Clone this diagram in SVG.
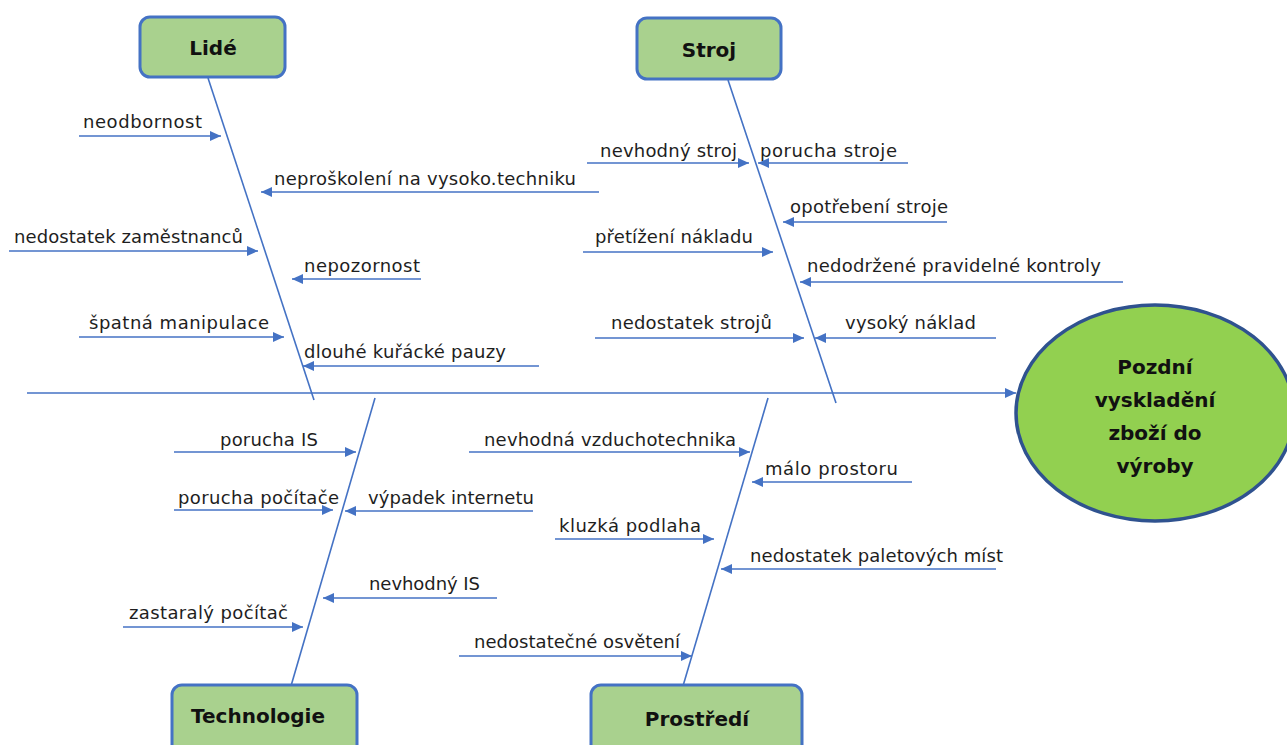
<svg xmlns="http://www.w3.org/2000/svg" width="1287" height="745" viewBox="0 0 1287 745">
  <style>
    .bone { stroke: #4472C4; stroke-width: 1.6; fill: none; }
    .arr { stroke: #4472C4; stroke-width: 1.6; fill: none; marker-end: url(#head); }
    .cat rect { fill: #A9D18E; stroke: #4472C4; stroke-width: 3; }
    .cat text, .effect text { font-family: "DejaVu Sans", "Liberation Sans", sans-serif; font-weight: bold; font-size: 20px; fill: #111; text-anchor: middle; }
    .cause text { font-family: "DejaVu Sans", "Liberation Sans", sans-serif; font-size: 18px; fill: #1e1e1e; lengthAdjust: spacing; }
    .effect ellipse { fill: #92D050; stroke: #2F528F; stroke-width: 3.5; }
  </style>
  <defs>
    <marker id="head" markerUnits="userSpaceOnUse" markerWidth="11" markerHeight="10" refX="11" refY="5" orient="auto">
      <path d="M0,0 L11,5 L0,10 z" fill="#4472C4"/>
    </marker>
  </defs>

  <!-- spine, category bones and cause arrows -->
  <g id="connectors">
    <line class="arr" x1="27" y1="393" x2="1016" y2="393"/>
    <line class="bone" x1="208" y1="78" x2="314" y2="400"/>
    <line class="bone" x1="728" y1="80" x2="836" y2="403"/>
    <line class="bone" x1="375" y1="398" x2="291" y2="686"/>
    <line class="bone" x1="768" y1="398" x2="683" y2="686"/>

    <!-- Lidé -->
    <line class="arr" x1="79" y1="136" x2="221" y2="136"/>
    <line class="arr" x1="599" y1="192" x2="261" y2="192"/>
    <line class="arr" x1="9" y1="251" x2="258" y2="251"/>
    <line class="arr" x1="421" y1="279" x2="292" y2="279"/>
    <line class="arr" x1="79" y1="337" x2="284" y2="337"/>
    <line class="arr" x1="539" y1="366" x2="303" y2="366"/>

    <!-- Stroj -->
    <line class="arr" x1="587" y1="163" x2="749" y2="163"/>
    <line class="arr" x1="908" y1="163" x2="758" y2="163"/>
    <line class="arr" x1="947" y1="222" x2="783" y2="222"/>
    <line class="arr" x1="583" y1="252" x2="773" y2="252"/>
    <line class="arr" x1="1123" y1="282" x2="800" y2="282"/>
    <line class="arr" x1="595" y1="338" x2="804" y2="338"/>
    <line class="arr" x1="996" y1="338" x2="815" y2="338"/>

    <!-- Technologie -->
    <line class="arr" x1="174" y1="452" x2="356" y2="452"/>
    <line class="arr" x1="174" y1="510" x2="333" y2="510"/>
    <line class="arr" x1="533" y1="511" x2="345" y2="511"/>
    <line class="arr" x1="497" y1="598" x2="323" y2="598"/>
    <line class="arr" x1="123" y1="627" x2="303" y2="627"/>

    <!-- Prostředí -->
    <line class="arr" x1="469" y1="452" x2="750" y2="452"/>
    <line class="arr" x1="912" y1="482" x2="752" y2="482"/>
    <line class="arr" x1="555" y1="539" x2="714" y2="539"/>
    <line class="arr" x1="996" y1="569" x2="721" y2="569"/>
    <line class="arr" x1="459" y1="656" x2="692" y2="656"/>
  </g>

  <!-- category boxes -->
  <g id="lide" class="cat">
    <rect x="140" y="17" width="145" height="60" rx="10"/>
    <text x="213" y="55">Lidé</text>
  </g>
  <g id="stroj" class="cat">
    <rect x="637" y="18" width="144" height="61" rx="10"/>
    <text x="709" y="57">Stroj</text>
  </g>
  <g id="technologie" class="cat">
    <rect x="172" y="685" width="185" height="75" rx="10"/>
    <text x="258" y="723">Technologie</text>
  </g>
  <g id="prostredi" class="cat">
    <rect x="591" y="685" width="211" height="75" rx="10"/>
    <text x="697" y="726">Prostředí</text>
  </g>

  <!-- effect -->
  <g id="effect" class="effect">
    <ellipse cx="1155" cy="413" rx="139" ry="108"/>
    <text x="1155" y="374">Pozdní</text>
    <text x="1155" y="407">vyskladění</text>
    <text x="1155" y="440">zboží do</text>
    <text x="1155" y="473">výroby</text>
  </g>

  <!-- cause labels -->
  <g id="causes-lide" class="cause">
    <text x="83" y="128" textLength="119">neodbornost</text>
    <text x="274" y="185" textLength="302">neproškolení na vysoko.techniku</text>
    <text x="14" y="243" textLength="229">nedostatek zaměstnanců</text>
    <text x="304" y="272" textLength="116">nepozornost</text>
    <text x="89" y="329" textLength="180">špatná manipulace</text>
    <text x="304" y="358" textLength="202">dlouhé kuřácké pauzy</text>
  </g>
  <g id="causes-stroj" class="cause">
    <text x="600" y="157" textLength="137">nevhodný stroj</text>
    <text x="760" y="157" textLength="137">porucha stroje</text>
    <text x="790" y="213" textLength="158">opotřebení stroje</text>
    <text x="595" y="243" textLength="158">přetížení nákladu</text>
    <text x="807" y="272" textLength="294">nedodržené pravidelné kontroly</text>
    <text x="611" y="329" textLength="161">nedostatek strojů</text>
    <text x="845" y="329" textLength="131">vysoký náklad</text>
  </g>
  <g id="causes-technologie" class="cause">
    <text x="220" y="446" textLength="98">porucha IS</text>
    <text x="178" y="504" textLength="161">porucha počítače</text>
    <text x="368" y="504" textLength="166">výpadek internetu</text>
    <text x="369" y="590" textLength="111">nevhodný IS</text>
    <text x="129" y="619" textLength="159">zastaralý počítač</text>
  </g>
  <g id="causes-prostredi" class="cause">
    <text x="484" y="446" textLength="252">nevhodná vzduchotechnika</text>
    <text x="765" y="475" textLength="133">málo prostoru</text>
    <text x="559" y="532" textLength="142">kluzká podlaha</text>
    <text x="750" y="562" textLength="253">nedostatek paletových míst</text>
    <text x="474" y="648" textLength="206">nedostatečné osvětení</text>
  </g>
</svg>
